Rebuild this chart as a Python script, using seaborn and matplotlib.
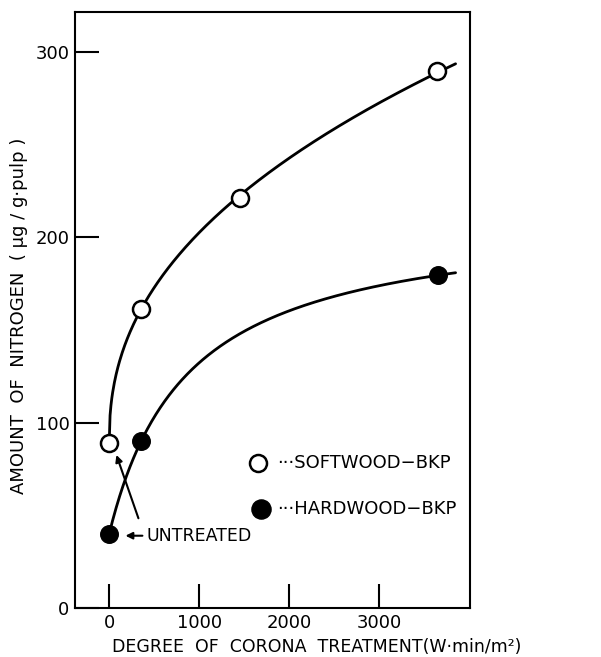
import numpy as np
import matplotlib
matplotlib.use("Agg")
import matplotlib.pyplot as plt
import seaborn as sns

# ---- data ----
treatment_soft = [0, 355, 1455, 3645]
nitrogen_soft = [89, 161.5, 221.5, 290]
treatment_hard = [0, 355, 3650]
nitrogen_hard = [40, 90, 179.5]
curve_end = 3850
x_ticks = [0, 1000, 2000, 3000]
y_ticks = [0, 100, 200, 300]
x_label = "DEGREE  OF  CORONA  TREATMENT(W·min/m²)"
y_label = "AMOUNT  OF  NITROGEN  ( μg / g·pulp )"
legend_soft = "···SOFTWOOD−BKP"
legend_hard = "···HARDWOOD−BKP"
note_text = "UNTREATED"

sns.set_style("ticks")
plt.rcParams['font.family'] = ['DejaVu Sans']
for key in ['text.color', 'axes.labelcolor', 'xtick.color', 'ytick.color', 'axes.edgecolor']:
    plt.rcParams[key] = 'black'

fig = plt.figure(figsize=(6.01, 6.57), dpi=100)
ax = fig.add_axes([0.1248, 0.0746, 0.782 - 0.1248, 0.9817 - 0.0746])

# fitted smooth curves through the measured points
xs = np.linspace(0, curve_end, 400)
xs_s = np.array(treatment_soft[1:], float)
ys_s = np.array(nitrogen_soft[1:], float) - nitrogen_soft[0]
p, lnk = np.polyfit(np.log(xs_s), np.log(ys_s), 1)
soft_curve = nitrogen_soft[0] + np.exp(lnk) * xs ** p

xh = np.array(treatment_hard[1:], float)
yh = np.array(nitrogen_hard[1:], float) - nitrogen_hard[0]
slope, inter = np.polyfit(1 / xh, 1 / yh, 1)
A = 1 / inter
c = slope * A
hard_curve = nitrogen_hard[0] + A * xs / (xs + c)

sns.lineplot(x=xs, y=soft_curve, color='black', lw=2.0, ax=ax, zorder=2)
sns.lineplot(x=xs, y=hard_curve, color='black', lw=2.0, ax=ax, zorder=2)

sns.scatterplot(x=treatment_soft, y=nitrogen_soft, marker='o', s=150,
                facecolor='white', edgecolor='black', linewidth=1.8, ax=ax, zorder=3)
sns.scatterplot(x=treatment_hard, y=nitrogen_hard, marker='o', s=160,
                color='black', edgecolor='black', linewidth=1.0, ax=ax, zorder=3)

# legend drawn inside the axes
ax.scatter([1655], [78], s=150, facecolor='white', edgecolor='black', linewidth=1.8, zorder=3)
ax.scatter([1690], [53.5], s=190, color='black', zorder=3)
ax.text(1870, 78, legend_soft, fontsize=13, va='center', ha='left')
ax.text(1870, 53.5, legend_hard, fontsize=13, va='center', ha='left')

# annotation
ax.text(410, 39, note_text, fontsize=12.5, va='center', ha='left')
ax.annotate('', xy=(150, 39), xytext=(400, 39),
            arrowprops=dict(arrowstyle='-|>', color='black', lw=1.5, mutation_scale=10))
ax.annotate('', xy=(70, 84), xytext=(335, 47),
            arrowprops=dict(arrowstyle='-|>', color='black', lw=1.5, mutation_scale=10))

ax.set_xlim(-380, 4010)
ax.set_ylim(0, 321.6)
ax.set_xticks(x_ticks)
ax.set_yticks(y_ticks)
ax.tick_params(direction='in', length=17, width=1.5, labelsize=13, pad=4,
               top=False, right=False)
for s in ax.spines.values():
    s.set_linewidth(1.5)
    s.set_color('black')

ax.set_xlabel(x_label, fontsize=12.5)
ax.set_ylabel(y_label, fontsize=13)
ax.xaxis.set_label_coords(0.611, -0.05)
ax.yaxis.set_label_coords(-0.12, 0.491)

fig.savefig("out.png", dpi=100)
